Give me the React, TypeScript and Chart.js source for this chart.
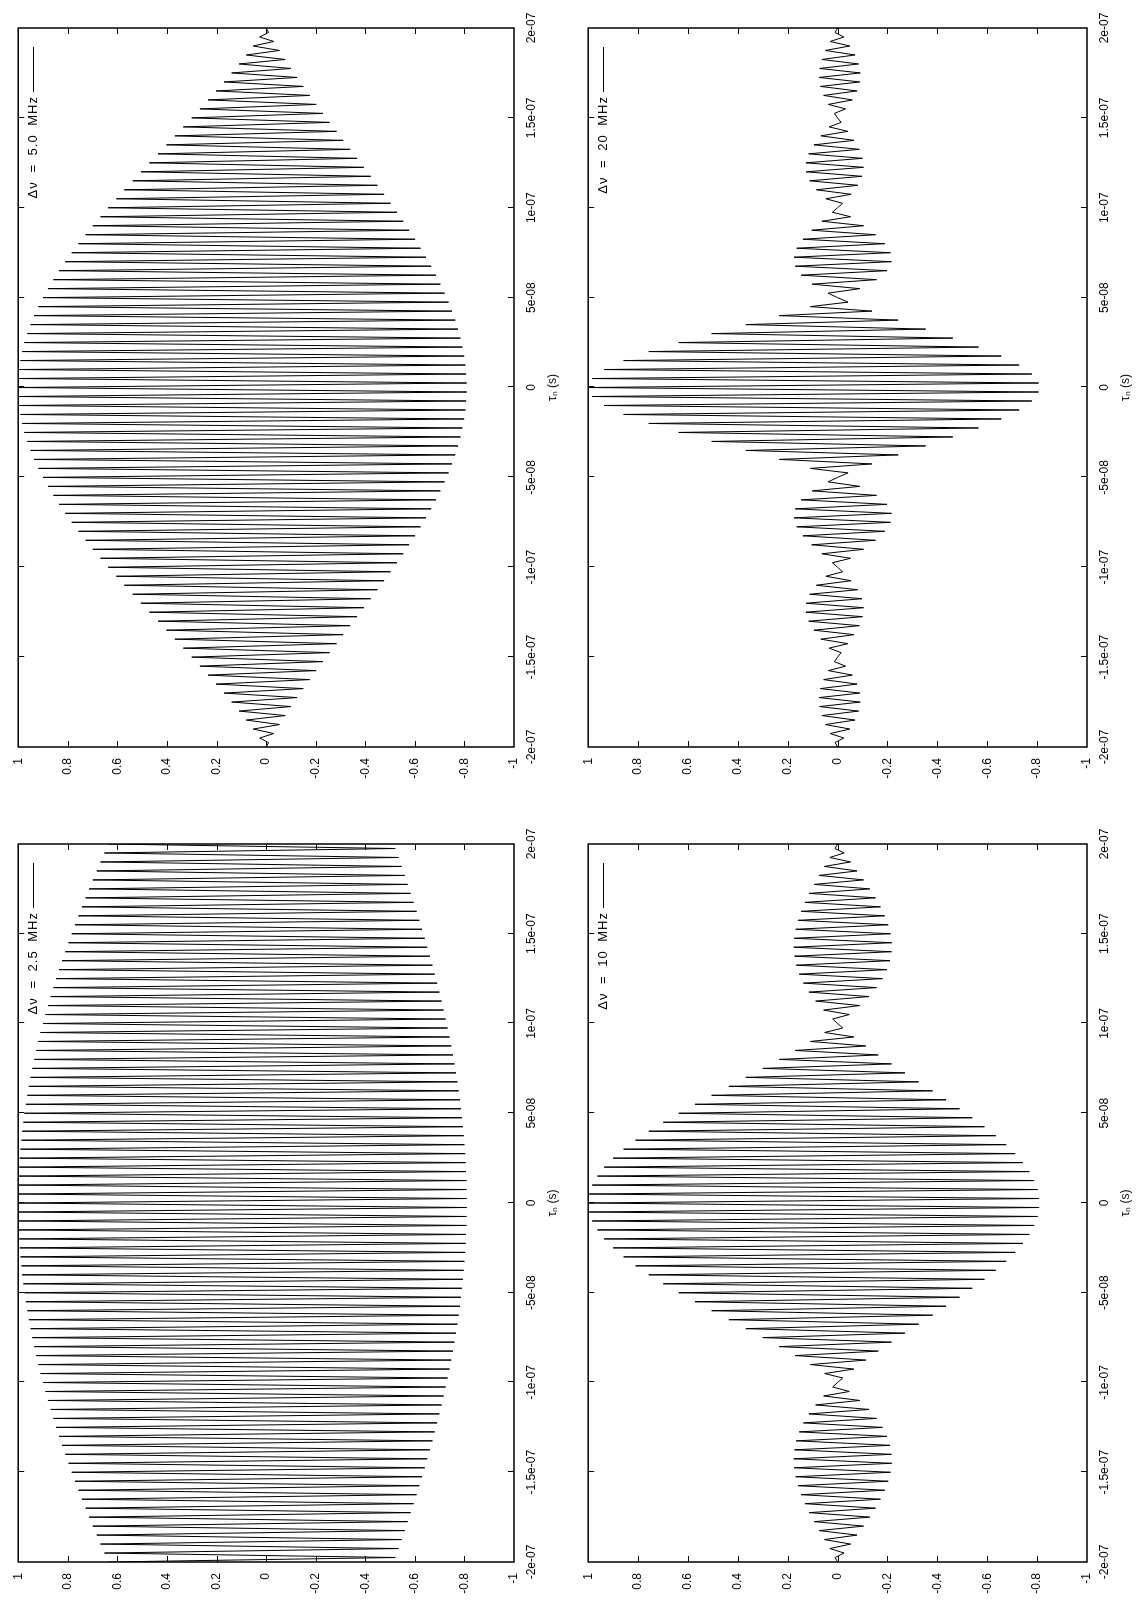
import React, { useEffect, useRef } from "react";
import { Chart, registerables } from "chart.js";

Chart.register(...registerables);

// ---------- data ----------
// samples every 2.5 ns from -200 ns to +200 ns (161 values per panel)
const TAU_START_NS = -200;
const TAU_STEP_NS = 2.5;

const TAU_TICKS = [-2e-7, -1.5e-7, -1e-7, -5e-8, 0, 5e-8, 1e-7, 1.5e-7, 2e-7];
const TAU_TICK_LABELS = ["-2e-07", "-1.5e-07", "-1e-07", "-5e-08", "0", "5e-08", "1e-07", "1.5e-07", "2e-07"];
const VALUE_TICKS = [-1, -0.8, -0.6, -0.4, -0.2, 0, 0.2, 0.4, 0.6, 0.8, 1];
const VALUE_TICK_LABELS = ["-1", "-0.8", "-0.6", "-0.4", "-0.2", "0", "0.2", "0.4", "0.6", "0.8", "1"];
const TAU_AXIS_TITLE = "\u03C4\u2099 (s)";

const KEY_LABELS = ["\u0394\u03BD = 2.5 MHz", "\u0394\u03BD = 5.0 MHz", "\u0394\u03BD = 10 MHz", "\u0394\u03BD = 20 MHz"];

const signal2p5 = [
  0.637, -0.521, 0.652, -0.534, 0.668, -0.547, 0.683, -0.559, 0.699, -0.571,
  0.714, -0.583, 0.728, -0.595, 0.743, -0.607, 0.757, -0.618, 0.771, -0.629,
  0.784, -0.640, 0.797, -0.650, 0.810, -0.661, 0.823, -0.671, 0.835, -0.680,
  0.847, -0.690, 0.858, -0.699, 0.869, -0.708, 0.880, -0.716, 0.890, -0.724,
  0.900, -0.732, 0.910, -0.740, 0.919, -0.747, 0.927, -0.754, 0.935, -0.760,
  0.943, -0.766, 0.950, -0.772, 0.957, -0.777, 0.963, -0.782, 0.969, -0.786,
  0.975, -0.790, 0.979, -0.794, 0.984, -0.797, 0.987, -0.800, 0.991, -0.803,
  0.994, -0.805, 0.996, -0.806, 0.998, -0.808, 0.999, -0.808, 1.000, -0.809,
  1,
  -0.809, 1.000, -0.808, 0.999, -0.808, 0.998, -0.806, 0.996, -0.805, 0.994,
  -0.803, 0.991, -0.800, 0.987, -0.797, 0.984, -0.794, 0.979, -0.790, 0.975,
  -0.786, 0.969, -0.782, 0.963, -0.777, 0.957, -0.772, 0.950, -0.766, 0.943,
  -0.760, 0.935, -0.754, 0.927, -0.747, 0.919, -0.740, 0.910, -0.732, 0.900,
  -0.724, 0.890, -0.716, 0.880, -0.708, 0.869, -0.699, 0.858, -0.690, 0.847,
  -0.680, 0.835, -0.671, 0.823, -0.661, 0.810, -0.650, 0.797, -0.640, 0.784,
  -0.629, 0.771, -0.618, 0.757, -0.607, 0.743, -0.595, 0.728, -0.583, 0.714,
  -0.571, 0.699, -0.559, 0.683, -0.547, 0.668, -0.534, 0.652, -0.521, 0.637,
];

const signal5 = [
  0, -0.010, 0.026, -0.031, 0.052, -0.054, 0.080, -0.077, 0.109, -0.100,
  0.139, -0.125, 0.170, -0.150, 0.202, -0.176, 0.234, -0.202, 0.267, -0.229,
  0.300, -0.256, 0.334, -0.284, 0.368, -0.311, 0.402, -0.339, 0.436, -0.367,
  0.471, -0.394, 0.505, -0.422, 0.538, -0.449, 0.572, -0.476, 0.604, -0.502,
  0.637, -0.528, 0.668, -0.553, 0.699, -0.577, 0.728, -0.601, 0.757, -0.623,
  0.784, -0.645, 0.810, -0.666, 0.835, -0.685, 0.858, -0.703, 0.880, -0.720,
  0.900, -0.736, 0.919, -0.750, 0.936, -0.763, 0.950, -0.774, 0.963, -0.784,
  0.975, -0.792, 0.984, -0.799, 0.991, -0.804, 0.996, -0.807, 0.999, -0.809,
  1,
  -0.809, 0.999, -0.807, 0.996, -0.804, 0.991, -0.799, 0.984, -0.792, 0.975,
  -0.784, 0.963, -0.774, 0.950, -0.763, 0.936, -0.750, 0.919, -0.736, 0.900,
  -0.720, 0.880, -0.703, 0.858, -0.685, 0.835, -0.666, 0.810, -0.645, 0.784,
  -0.623, 0.757, -0.601, 0.728, -0.577, 0.699, -0.553, 0.668, -0.528, 0.637,
  -0.502, 0.604, -0.476, 0.572, -0.449, 0.538, -0.422, 0.505, -0.394, 0.471,
  -0.367, 0.436, -0.339, 0.402, -0.311, 0.368, -0.284, 0.334, -0.256, 0.300,
  -0.229, 0.267, -0.202, 0.234, -0.176, 0.202, -0.150, 0.170, -0.125, 0.139,
  -0.100, 0.109, -0.077, 0.080, -0.054, 0.052, -0.031, 0.026, -0.010, 0,
];

const signal10 = [
  0, 0.010, -0.026, 0.031, -0.052, 0.053, -0.078, 0.074, -0.104, 0.094,
  -0.129, 0.114, -0.152, 0.131, -0.172, 0.146, -0.189, 0.159, -0.203, 0.168,
  -0.212, 0.174, -0.217, 0.176, -0.216, 0.173, -0.210, 0.166, -0.198, 0.154,
  -0.180, 0.137, -0.156, 0.115, -0.126, 0.088, -0.089, 0.056, -0.047, 0.020,
  0, -0.021, 0.052, -0.065, 0.109, -0.113, 0.170, -0.163, 0.234, -0.216,
  0.300, -0.270, 0.368, -0.325, 0.436, -0.381, 0.505, -0.435, 0.572, -0.489,
  0.637, -0.540, 0.699, -0.589, 0.757, -0.634, 0.810, -0.676, 0.858, -0.712,
  0.900, -0.743, 0.936, -0.769, 0.963, -0.788, 0.984, -0.802, 0.996, -0.808,
  1,
  -0.808, 0.996, -0.802, 0.984, -0.788, 0.963, -0.769, 0.936, -0.743, 0.900,
  -0.712, 0.858, -0.676, 0.810, -0.634, 0.757, -0.589, 0.699, -0.540, 0.637,
  -0.489, 0.572, -0.435, 0.505, -0.381, 0.436, -0.325, 0.368, -0.270, 0.300,
  -0.216, 0.234, -0.163, 0.170, -0.113, 0.109, -0.065, 0.052, -0.021, 0,
  0.020, -0.047, 0.056, -0.089, 0.088, -0.126, 0.115, -0.156, 0.137, -0.180,
  0.154, -0.198, 0.166, -0.210, 0.173, -0.216, 0.176, -0.217, 0.174, -0.212,
  0.168, -0.203, 0.159, -0.189, 0.146, -0.172, 0.131, -0.152, 0.114, -0.129,
  0.094, -0.104, 0.074, -0.078, 0.053, -0.052, 0.031, -0.026, 0.010, 0,
];

const signal20 = [
  0, 0.010, -0.025, 0.030, -0.049, 0.049, -0.070, 0.063, -0.084, 0.072,
  -0.091, 0.074, -0.089, 0.069, -0.078, 0.056, -0.059, 0.037, -0.032, 0.013,
  0, -0.014, 0.034, -0.041, 0.067, -0.066, 0.095, -0.087, 0.116, -0.100,
  0.127, -0.104, 0.126, -0.098, 0.112, -0.081, 0.085, -0.054, 0.047, -0.020,
  0, 0.021, -0.052, 0.063, -0.104, 0.104, -0.152, 0.139, -0.189, 0.164,
  -0.212, 0.175, -0.216, 0.170, -0.198, 0.146, -0.156, 0.102, -0.089, 0.038,
  0, -0.042, 0.109, -0.138, 0.234, -0.243, 0.368, -0.353, 0.505, -0.462,
  0.637, -0.565, 0.757, -0.656, 0.858, -0.728, 0.936, -0.779, 0.984, -0.806,
  1,
  -0.806, 0.984, -0.779, 0.936, -0.728, 0.858, -0.656, 0.757, -0.565, 0.637,
  -0.462, 0.505, -0.353, 0.368, -0.243, 0.234, -0.138, 0.109, -0.042, 0,
  0.038, -0.089, 0.102, -0.156, 0.146, -0.198, 0.170, -0.216, 0.175, -0.212,
  0.164, -0.189, 0.139, -0.152, 0.104, -0.104, 0.063, -0.052, 0.021, 0,
  -0.020, 0.047, -0.054, 0.085, -0.081, 0.112, -0.098, 0.126, -0.104, 0.127,
  -0.100, 0.116, -0.087, 0.095, -0.066, 0.067, -0.041, 0.034, -0.014, 0,
  0.013, -0.032, 0.037, -0.059, 0.056, -0.078, 0.069, -0.089, 0.074, -0.091,
  0.072, -0.084, 0.063, -0.070, 0.049, -0.049, 0.030, -0.025, 0.010, 0,
];

// ---------- layout / style ----------
const FONT = "'Liberation Sans', Arial, Helvetica, sans-serif";
const PANEL_W = 804;
const PANEL_H = 570;
const X_AXIS_HEIGHT = 46;

type PanelLayout = {
  left: number;
  top: number;
  yAxisWidth: number;
  padTop: number;
  padRight: number;
  padBottom: number;
};

const LAYOUTS: PanelLayout[] = [
  { left: 0, top: 0, yAxisWidth: 47, padTop: 12, padRight: 39, padBottom: 10 },
  { left: 805, top: 0, yAxisWidth: 57, padTop: 12, padRight: 28, padBottom: 10 },
  { left: 0, top: 570, yAxisWidth: 47, padTop: 15, padRight: 39, padBottom: 7 },
  { left: 805, top: 570, yAxisWidth: 57, padTop: 15, padRight: 28, padBottom: 7 },
];

const SERIES = [signal2p5, signal5, signal10, signal20];

const framePlugin = {
  id: "gnuFrame",
  afterDraw(chart: any) {
    const { ctx, chartArea: a, scales } = chart;
    const xs = scales.x;
    const ys = scales.y;
    const T = 6;
    ctx.save();
    ctx.strokeStyle = "#000";
    ctx.lineWidth = 1;
    ctx.beginPath();
    TAU_TICKS.forEach((v) => {
      const px = Math.round(xs.getPixelForValue(v)) + 0.5;
      if (px <= a.left + 2 || px >= a.right - 2) return;
      ctx.moveTo(px, a.bottom);
      ctx.lineTo(px, a.bottom - T);
      ctx.moveTo(px, a.top);
      ctx.lineTo(px, a.top + T);
    });
    VALUE_TICKS.forEach((v) => {
      const py = Math.round(ys.getPixelForValue(v)) + 0.5;
      if (py <= a.top + 2 || py >= a.bottom - 2) return;
      ctx.moveTo(a.left, py);
      ctx.lineTo(a.left + T, py);
      ctx.moveTo(a.right, py);
      ctx.lineTo(a.right - T, py);
    });
    ctx.stroke();
    ctx.lineWidth = 1.5;
    ctx.strokeRect(a.left, a.top, a.right - a.left, a.bottom - a.top);
    ctx.restore();
  },
};

const keyPlugin = {
  id: "gnuKey",
  afterDatasetsDraw(chart: any) {
    const { ctx, chartArea: a } = chart;
    const ds = chart.data.datasets[0];
    const y = Math.round(a.top + 15) + 0.5;
    const lineStart = a.right - 64;
    const lineEnd = a.right - 19;
    ctx.save();
    ctx.font = `13px ${FONT}`;
    ctx.fillStyle = "#000";
    ctx.textAlign = "right";
    ctx.textBaseline = "middle";
    try {
      (ctx as any).letterSpacing = "1px";
      (ctx as any).wordSpacing = "4px";
    } catch (e) {
      /* ignore */
    }
    ctx.fillText(ds.label, lineStart - 4, y);
    ctx.beginPath();
    ctx.moveTo(lineStart, y);
    ctx.lineTo(lineEnd, y);
    ctx.lineWidth = 1;
    ctx.strokeStyle = "#000";
    ctx.stroke();
    ctx.restore();
  },
};

function Panel({ index }: { index: number }) {
  const ref = useRef<HTMLCanvasElement | null>(null);
  const lay = LAYOUTS[index];

  useEffect(() => {
    const canvas = ref.current;
    if (!canvas) return;
    const values = SERIES[index];
    const points = values.map((v, i) => ({
      x: (TAU_START_NS + i * TAU_STEP_NS) * 1e-9,
      y: v,
    }));
    const tickFont = { family: FONT, size: 12 };
    const chart = new Chart(canvas, {
      type: "scatter",
      data: {
        datasets: [
          {
            label: KEY_LABELS[index],
            data: points,
            showLine: true,
            borderColor: "#000",
            backgroundColor: "#000",
            borderWidth: 1,
            pointRadius: 0,
            pointHoverRadius: 0,
            tension: 0,
            fill: false,
          } as any,
        ],
      },
      options: {
        animation: false,
        responsive: false,
        maintainAspectRatio: false,
        devicePixelRatio: 1,
        events: [],
        layout: {
          padding: { top: lay.padTop, right: lay.padRight, bottom: lay.padBottom, left: 0 },
        },
        plugins: {
          legend: { display: false },
          tooltip: { enabled: false },
        },
        scales: {
          x: {
            type: "linear",
            position: "bottom",
            min: -2e-7,
            max: 2e-7,
            afterBuildTicks: (s: any) => {
              s.ticks = TAU_TICKS.map((v) => ({ value: v }));
            },
            afterFit: (s: any) => {
              s.height = X_AXIS_HEIGHT;
            },
            grid: { display: false, drawTicks: false },
            border: { display: false },
            ticks: {
              autoSkip: false,
              maxRotation: 0,
              minRotation: 0,
              padding: 10,
              color: "#000",
              font: tickFont,
              callback: (_v: any, i: number) => TAU_TICK_LABELS[i],
            },
            title: {
              display: true,
              text: TAU_AXIS_TITLE,
              color: "#000",
              font: tickFont,
              padding: 0,
            },
          },
          y: {
            type: "linear",
            position: "left",
            min: -1,
            max: 1,
            afterBuildTicks: (s: any) => {
              s.ticks = VALUE_TICKS.map((v) => ({ value: v }));
            },
            afterFit: (s: any) => {
              s.width = lay.yAxisWidth;
            },
            grid: { display: false, drawTicks: false },
            border: { display: false },
            ticks: {
              autoSkip: false,
              padding: 11,
              color: "#000",
              font: tickFont,
              callback: (_v: any, i: number) => VALUE_TICK_LABELS[i],
            },
          },
        },
      } as any,
      plugins: [framePlugin, keyPlugin],
    });
    return () => chart.destroy();
  }, [index]);

  return (
    <canvas
      ref={ref}
      width={PANEL_W}
      height={PANEL_H}
      style={{
        position: "absolute",
        left: lay.left,
        top: lay.top,
        width: PANEL_W,
        height: PANEL_H,
      }}
    />
  );
}

export default function App() {
  return (
    <div
      style={{
        position: "absolute",
        left: 0,
        top: 0,
        width: 1140,
        height: 1609,
        overflow: "hidden",
        background: "#fff",
      }}
    >
      <div
        style={{
          position: "absolute",
          left: 0,
          top: 0,
          width: 1609,
          height: 1140,
          transformOrigin: "0 0",
          transform: "translate(0px, 1609px) rotate(-90deg)",
          background: "#fff",
        }}
      >
        {[0, 1, 2, 3].map((i) => (
          <Panel key={i} index={i} />
        ))}
      </div>
    </div>
  );
}
